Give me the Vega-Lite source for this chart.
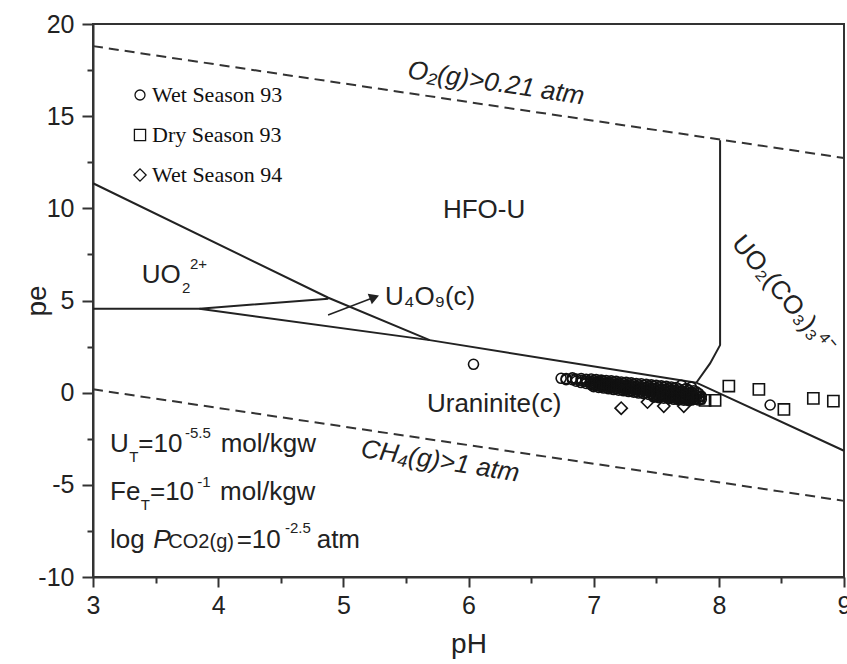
{
  "$schema": "https://vega.github.io/schema/vega-lite/v6.json",
  "width": 751,
  "height": 553,
  "autosize": {"type": "none"},
  "padding": {"left": 93, "top": 24, "right": 3, "bottom": 87},
  "background": "white",
  "config": {
    "font": "Liberation Sans",
    "view": {"stroke": "#333", "strokeWidth": 2},
    "axis": {"domainColor": "#333", "domainWidth": 2, "tickColor": "#333", "tickWidth": 2, "labelColor": "#222", "titleColor": "#222", "grid": false, "labelFont": "Liberation Sans", "titleFont": "Liberation Sans", "titleFontWeight": "normal", "labelFlush": false}
  },
  "layer": [
    {
      "data": {"values": [
        {"g": "O2", "pH": 3, "pe": 18.8}, {"g": "O2", "pH": 9, "pe": 12.73},
        {"g": "CH4", "pH": 3, "pe": 0.18}, {"g": "CH4", "pH": 9, "pe": -5.87}
      ]},
      "mark": {"type": "line", "strokeDash": [10, 6], "strokeWidth": 2, "color": "#333"},
      "encoding": {
        "x": {"field": "pH", "type": "quantitative", "scale": {"domain": [3, 9], "nice": false, "zero": false},
          "axis": {"orient": "bottom", "values": [3.5, 4.5, 5.5, 6.5, 7.5, 8.5], "labels": false, "tickSize": 6, "domain": false, "title": null}},
        "y": {"field": "pe", "type": "quantitative", "scale": {"domain": [-10, 20], "nice": false, "zero": false},
          "axis": {"orient": "left", "values": [-7.5, -2.5, 2.5, 7.5, 12.5, 17.5], "labels": false, "tickSize": 6, "domain": false, "title": null}},
        "detail": {"field": "g"}
      }
    },
    {
      "data": {"values": [
        {"seg": "A", "o": 1, "pH": 3, "pe": 11.36}, {"seg": "A", "o": 2, "pH": 4.88, "pe": 5.15}, {"seg": "A", "o": 3, "pH": 5.69, "pe": 2.85},
        {"seg": "B", "o": 1, "pH": 3, "pe": 4.55}, {"seg": "B", "o": 2, "pH": 3.85, "pe": 4.55}, {"seg": "B", "o": 3, "pH": 4.88, "pe": 5.1},
        {"seg": "C", "o": 1, "pH": 3.85, "pe": 4.55}, {"seg": "C", "o": 2, "pH": 5.69, "pe": 2.85}, {"seg": "C", "o": 3, "pH": 7.82, "pe": 0.54}, {"seg": "C", "o": 4, "pH": 9, "pe": -3.15},
        {"seg": "D", "o": 1, "pH": 8.01, "pe": 13.7}, {"seg": "D", "o": 2, "pH": 8.01, "pe": 2.58}, {"seg": "D", "o": 3, "pH": 7.93, "pe": 1.59}, {"seg": "D", "o": 4, "pH": 7.82, "pe": 0.54}
      ]},
      "mark": {"type": "line", "strokeWidth": 2, "color": "#222"},
      "encoding": {
        "x": {"field": "pH", "type": "quantitative", "axis": null},
        "y": {"field": "pe", "type": "quantitative", "axis": null},
        "detail": {"field": "seg"},
        "order": {"field": "o", "type": "quantitative"}
      }
    },
    {
      "data": {"values": [{"pH": 4.878, "pe": 4.21}, {"pH": 5.248, "pe": 5.18}]},
      "mark": {"type": "line", "strokeWidth": 1.5, "color": "#222"},
      "encoding": {
        "x": {"field": "pH", "type": "quantitative", "axis": null},
        "y": {"field": "pe", "type": "quantitative", "axis": null}
      }
    },
    {
      "data": {"values": [{"pH": 5.248, "pe": 5.18}]},
      "mark": {"type": "point", "shape": "triangle-right", "angle": 339, "filled": true, "size": 130, "color": "#222", "opacity": 1},
      "encoding": {
        "x": {"field": "pH", "type": "quantitative", "axis": null},
        "y": {"field": "pe", "type": "quantitative", "axis": null}
      }
    },
    {
      "data": {"values": [
        {"s": "Wet Season 93", "pH": 6.04, "pe": 1.54},
        {"s": "Wet Season 93", "pH": 6.74, "pe": 0.78},
        {"s": "Wet Season 93", "pH": 6.78, "pe": 0.76}, {"s": "Wet Season 93", "pH": 6.78, "pe": 0.70},
        {"s": "Wet Season 93", "pH": 6.83, "pe": 0.80}, {"s": "Wet Season 93", "pH": 6.83, "pe": 0.70},
        {"s": "Wet Season 93", "pH": 6.86, "pe": 0.74}, {"s": "Wet Season 93", "pH": 6.86, "pe": 0.62},
        {"s": "Wet Season 93", "pH": 6.90, "pe": 0.76}, {"s": "Wet Season 93", "pH": 6.90, "pe": 0.66}, {"s": "Wet Season 93", "pH": 6.90, "pe": 0.55},
        {"s": "Wet Season 93", "pH": 6.94, "pe": 0.72}, {"s": "Wet Season 93", "pH": 6.94, "pe": 0.61}, {"s": "Wet Season 93", "pH": 6.94, "pe": 0.50},
        {"s": "Wet Season 93", "pH": 6.98, "pe": 0.74}, {"s": "Wet Season 93", "pH": 6.98, "pe": 0.62}, {"s": "Wet Season 93", "pH": 6.98, "pe": 0.52}, {"s": "Wet Season 93", "pH": 6.98, "pe": 0.42},
        {"s": "Wet Season 93", "pH": 7.00, "pe": 0.66}, {"s": "Wet Season 93", "pH": 7.00, "pe": 0.54}, {"s": "Wet Season 93", "pH": 7.00, "pe": 0.43}, {"s": "Wet Season 93", "pH": 7.00, "pe": 0.33},
        {"s": "Wet Season 93", "pH": 7.02, "pe": 0.71}, {"s": "Wet Season 93", "pH": 7.02, "pe": 0.58}, {"s": "Wet Season 93", "pH": 7.02, "pe": 0.46}, {"s": "Wet Season 93", "pH": 7.02, "pe": 0.36},
        {"s": "Wet Season 93", "pH": 7.04, "pe": 0.63}, {"s": "Wet Season 93", "pH": 7.04, "pe": 0.50}, {"s": "Wet Season 93", "pH": 7.04, "pe": 0.39}, {"s": "Wet Season 93", "pH": 7.04, "pe": 0.28},
        {"s": "Wet Season 93", "pH": 7.06, "pe": 0.68}, {"s": "Wet Season 93", "pH": 7.06, "pe": 0.55}, {"s": "Wet Season 93", "pH": 7.06, "pe": 0.43}, {"s": "Wet Season 93", "pH": 7.06, "pe": 0.33},
        {"s": "Wet Season 93", "pH": 7.08, "pe": 0.61}, {"s": "Wet Season 93", "pH": 7.08, "pe": 0.48}, {"s": "Wet Season 93", "pH": 7.08, "pe": 0.36}, {"s": "Wet Season 93", "pH": 7.08, "pe": 0.25},
        {"s": "Wet Season 93", "pH": 7.10, "pe": 0.66}, {"s": "Wet Season 93", "pH": 7.10, "pe": 0.53}, {"s": "Wet Season 93", "pH": 7.10, "pe": 0.41}, {"s": "Wet Season 93", "pH": 7.10, "pe": 0.29},
        {"s": "Wet Season 93", "pH": 7.12, "pe": 0.58}, {"s": "Wet Season 93", "pH": 7.12, "pe": 0.45}, {"s": "Wet Season 93", "pH": 7.12, "pe": 0.33}, {"s": "Wet Season 93", "pH": 7.12, "pe": 0.21},
        {"s": "Wet Season 93", "pH": 7.14, "pe": 0.64}, {"s": "Wet Season 93", "pH": 7.14, "pe": 0.50}, {"s": "Wet Season 93", "pH": 7.14, "pe": 0.38}, {"s": "Wet Season 93", "pH": 7.14, "pe": 0.26},
        {"s": "Wet Season 93", "pH": 7.16, "pe": 0.56}, {"s": "Wet Season 93", "pH": 7.16, "pe": 0.42}, {"s": "Wet Season 93", "pH": 7.16, "pe": 0.29}, {"s": "Wet Season 93", "pH": 7.16, "pe": 0.17},
        {"s": "Wet Season 93", "pH": 7.18, "pe": 0.61}, {"s": "Wet Season 93", "pH": 7.18, "pe": 0.47}, {"s": "Wet Season 93", "pH": 7.18, "pe": 0.34}, {"s": "Wet Season 93", "pH": 7.18, "pe": 0.21},
        {"s": "Wet Season 93", "pH": 7.20, "pe": 0.53}, {"s": "Wet Season 93", "pH": 7.20, "pe": 0.39}, {"s": "Wet Season 93", "pH": 7.20, "pe": 0.26}, {"s": "Wet Season 93", "pH": 7.20, "pe": 0.13},
        {"s": "Wet Season 93", "pH": 7.22, "pe": 0.58}, {"s": "Wet Season 93", "pH": 7.22, "pe": 0.44}, {"s": "Wet Season 93", "pH": 7.22, "pe": 0.31}, {"s": "Wet Season 93", "pH": 7.22, "pe": 0.18},
        {"s": "Wet Season 93", "pH": 7.24, "pe": 0.51}, {"s": "Wet Season 93", "pH": 7.24, "pe": 0.36}, {"s": "Wet Season 93", "pH": 7.24, "pe": 0.23}, {"s": "Wet Season 93", "pH": 7.24, "pe": 0.10},
        {"s": "Wet Season 93", "pH": 7.26, "pe": 0.56}, {"s": "Wet Season 93", "pH": 7.26, "pe": 0.41}, {"s": "Wet Season 93", "pH": 7.26, "pe": 0.27}, {"s": "Wet Season 93", "pH": 7.26, "pe": 0.14},
        {"s": "Wet Season 93", "pH": 7.28, "pe": 0.48}, {"s": "Wet Season 93", "pH": 7.28, "pe": 0.34}, {"s": "Wet Season 93", "pH": 7.28, "pe": 0.19}, {"s": "Wet Season 93", "pH": 7.28, "pe": 0.06},
        {"s": "Wet Season 93", "pH": 7.30, "pe": 0.53}, {"s": "Wet Season 93", "pH": 7.30, "pe": 0.39}, {"s": "Wet Season 93", "pH": 7.30, "pe": 0.24}, {"s": "Wet Season 93", "pH": 7.30, "pe": 0.10},
        {"s": "Wet Season 93", "pH": 7.32, "pe": 0.45}, {"s": "Wet Season 93", "pH": 7.32, "pe": 0.30}, {"s": "Wet Season 93", "pH": 7.32, "pe": 0.16}, {"s": "Wet Season 93", "pH": 7.32, "pe": 0.03},
        {"s": "Wet Season 93", "pH": 7.34, "pe": 0.50}, {"s": "Wet Season 93", "pH": 7.34, "pe": 0.35}, {"s": "Wet Season 93", "pH": 7.34, "pe": 0.21}, {"s": "Wet Season 93", "pH": 7.34, "pe": 0.07},
        {"s": "Wet Season 93", "pH": 7.36, "pe": 0.43}, {"s": "Wet Season 93", "pH": 7.36, "pe": 0.27}, {"s": "Wet Season 93", "pH": 7.36, "pe": 0.13}, {"s": "Wet Season 93", "pH": 7.36, "pe": -0.02},
        {"s": "Wet Season 93", "pH": 7.38, "pe": 0.48}, {"s": "Wet Season 93", "pH": 7.38, "pe": 0.32}, {"s": "Wet Season 93", "pH": 7.38, "pe": 0.18}, {"s": "Wet Season 93", "pH": 7.38, "pe": 0.03},
        {"s": "Wet Season 93", "pH": 7.40, "pe": 0.40}, {"s": "Wet Season 93", "pH": 7.40, "pe": 0.24}, {"s": "Wet Season 93", "pH": 7.40, "pe": 0.09}, {"s": "Wet Season 93", "pH": 7.40, "pe": -0.06},
        {"s": "Wet Season 93", "pH": 7.42, "pe": 0.45}, {"s": "Wet Season 93", "pH": 7.42, "pe": 0.29}, {"s": "Wet Season 93", "pH": 7.42, "pe": 0.14}, {"s": "Wet Season 93", "pH": 7.42, "pe": -0.01},
        {"s": "Wet Season 93", "pH": 7.44, "pe": 0.37}, {"s": "Wet Season 93", "pH": 7.44, "pe": 0.21}, {"s": "Wet Season 93", "pH": 7.44, "pe": 0.06}, {"s": "Wet Season 93", "pH": 7.44, "pe": -0.10},
        {"s": "Wet Season 93", "pH": 7.46, "pe": 0.42}, {"s": "Wet Season 93", "pH": 7.46, "pe": 0.26}, {"s": "Wet Season 93", "pH": 7.46, "pe": 0.11}, {"s": "Wet Season 93", "pH": 7.46, "pe": -0.05},
        {"s": "Wet Season 93", "pH": 7.48, "pe": 0.35}, {"s": "Wet Season 93", "pH": 7.48, "pe": 0.18}, {"s": "Wet Season 93", "pH": 7.48, "pe": 0.02}, {"s": "Wet Season 93", "pH": 7.48, "pe": -0.13}, {"s": "Wet Season 93", "pH": 7.48, "pe": -0.24},
        {"s": "Wet Season 93", "pH": 7.50, "pe": 0.40}, {"s": "Wet Season 93", "pH": 7.50, "pe": 0.23}, {"s": "Wet Season 93", "pH": 7.50, "pe": 0.08}, {"s": "Wet Season 93", "pH": 7.50, "pe": -0.08}, {"s": "Wet Season 93", "pH": 7.50, "pe": -0.20},
        {"s": "Wet Season 93", "pH": 7.52, "pe": 0.32}, {"s": "Wet Season 93", "pH": 7.52, "pe": 0.15}, {"s": "Wet Season 93", "pH": 7.52, "pe": -0.01}, {"s": "Wet Season 93", "pH": 7.52, "pe": -0.16}, {"s": "Wet Season 93", "pH": 7.52, "pe": -0.27},
        {"s": "Wet Season 93", "pH": 7.54, "pe": 0.37}, {"s": "Wet Season 93", "pH": 7.54, "pe": 0.20}, {"s": "Wet Season 93", "pH": 7.54, "pe": 0.05}, {"s": "Wet Season 93", "pH": 7.54, "pe": -0.11}, {"s": "Wet Season 93", "pH": 7.54, "pe": -0.22},
        {"s": "Wet Season 93", "pH": 7.56, "pe": 0.29}, {"s": "Wet Season 93", "pH": 7.56, "pe": 0.12}, {"s": "Wet Season 93", "pH": 7.56, "pe": -0.04}, {"s": "Wet Season 93", "pH": 7.56, "pe": -0.19}, {"s": "Wet Season 93", "pH": 7.56, "pe": -0.30},
        {"s": "Wet Season 93", "pH": 7.58, "pe": 0.34}, {"s": "Wet Season 93", "pH": 7.58, "pe": 0.18}, {"s": "Wet Season 93", "pH": 7.58, "pe": 0.02}, {"s": "Wet Season 93", "pH": 7.58, "pe": -0.14}, {"s": "Wet Season 93", "pH": 7.58, "pe": -0.25},
        {"s": "Wet Season 93", "pH": 7.60, "pe": 0.26}, {"s": "Wet Season 93", "pH": 7.60, "pe": 0.09}, {"s": "Wet Season 93", "pH": 7.60, "pe": -0.07}, {"s": "Wet Season 93", "pH": 7.60, "pe": -0.22}, {"s": "Wet Season 93", "pH": 7.60, "pe": -0.33},
        {"s": "Wet Season 93", "pH": 7.62, "pe": 0.31}, {"s": "Wet Season 93", "pH": 7.62, "pe": 0.15}, {"s": "Wet Season 93", "pH": 7.62, "pe": -0.01}, {"s": "Wet Season 93", "pH": 7.62, "pe": -0.17}, {"s": "Wet Season 93", "pH": 7.62, "pe": -0.28},
        {"s": "Wet Season 93", "pH": 7.64, "pe": 0.23}, {"s": "Wet Season 93", "pH": 7.64, "pe": 0.06}, {"s": "Wet Season 93", "pH": 7.64, "pe": -0.10}, {"s": "Wet Season 93", "pH": 7.64, "pe": -0.25}, {"s": "Wet Season 93", "pH": 7.64, "pe": -0.36},
        {"s": "Wet Season 93", "pH": 7.66, "pe": 0.28}, {"s": "Wet Season 93", "pH": 7.66, "pe": 0.12}, {"s": "Wet Season 93", "pH": 7.66, "pe": -0.04}, {"s": "Wet Season 93", "pH": 7.66, "pe": -0.20}, {"s": "Wet Season 93", "pH": 7.66, "pe": -0.32},
        {"s": "Wet Season 93", "pH": 7.68, "pe": 0.20}, {"s": "Wet Season 93", "pH": 7.68, "pe": 0.03}, {"s": "Wet Season 93", "pH": 7.68, "pe": -0.13}, {"s": "Wet Season 93", "pH": 7.68, "pe": -0.28}, {"s": "Wet Season 93", "pH": 7.68, "pe": -0.39},
        {"s": "Wet Season 93", "pH": 7.70, "pe": 0.40}, {"s": "Wet Season 93", "pH": 7.70, "pe": 0.10}, {"s": "Wet Season 93", "pH": 7.70, "pe": -0.07}, {"s": "Wet Season 93", "pH": 7.70, "pe": -0.23}, {"s": "Wet Season 93", "pH": 7.70, "pe": -0.35},
        {"s": "Wet Season 93", "pH": 7.72, "pe": 0.17}, {"s": "Wet Season 93", "pH": 7.72, "pe": 0.00}, {"s": "Wet Season 93", "pH": 7.72, "pe": -0.16}, {"s": "Wet Season 93", "pH": 7.72, "pe": -0.31}, {"s": "Wet Season 93", "pH": 7.72, "pe": -0.41},
        {"s": "Wet Season 93", "pH": 7.74, "pe": 0.22}, {"s": "Wet Season 93", "pH": 7.74, "pe": 0.06}, {"s": "Wet Season 93", "pH": 7.74, "pe": -0.10}, {"s": "Wet Season 93", "pH": 7.74, "pe": -0.26}, {"s": "Wet Season 93", "pH": 7.74, "pe": -0.38},
        {"s": "Wet Season 93", "pH": 7.76, "pe": 0.14}, {"s": "Wet Season 93", "pH": 7.76, "pe": -0.04}, {"s": "Wet Season 93", "pH": 7.76, "pe": -0.19}, {"s": "Wet Season 93", "pH": 7.76, "pe": -0.34}, {"s": "Wet Season 93", "pH": 7.76, "pe": -0.43},
        {"s": "Wet Season 93", "pH": 7.78, "pe": 0.30}, {"s": "Wet Season 93", "pH": 7.78, "pe": 0.03}, {"s": "Wet Season 93", "pH": 7.78, "pe": -0.13}, {"s": "Wet Season 93", "pH": 7.78, "pe": -0.29}, {"s": "Wet Season 93", "pH": 7.78, "pe": -0.40},
        {"s": "Wet Season 93", "pH": 7.80, "pe": 0.10}, {"s": "Wet Season 93", "pH": 7.80, "pe": -0.06}, {"s": "Wet Season 93", "pH": 7.80, "pe": -0.22}, {"s": "Wet Season 93", "pH": 7.80, "pe": -0.37},
        {"s": "Wet Season 93", "pH": 7.82, "pe": 0.05}, {"s": "Wet Season 93", "pH": 7.82, "pe": -0.16}, {"s": "Wet Season 93", "pH": 7.82, "pe": -0.32},
        {"s": "Wet Season 93", "pH": 7.84, "pe": -0.05}, {"s": "Wet Season 93", "pH": 7.84, "pe": -0.25}, {"s": "Wet Season 93", "pH": 7.84, "pe": -0.40},
        {"s": "Wet Season 93", "pH": 7.86, "pe": -0.20}, {"s": "Wet Season 93", "pH": 7.86, "pe": -0.36},
        {"s": "Wet Season 93", "pH": 8.41, "pe": -0.67},
        {"s": "Dry Season 93", "pH": 7.84, "pe": -0.30}, {"s": "Dry Season 93", "pH": 7.89, "pe": -0.42}, {"s": "Dry Season 93", "pH": 7.97, "pe": -0.42},
        {"s": "Dry Season 93", "pH": 8.08, "pe": 0.36}, {"s": "Dry Season 93", "pH": 8.32, "pe": 0.18}, {"s": "Dry Season 93", "pH": 8.52, "pe": -0.91},
        {"s": "Dry Season 93", "pH": 8.755, "pe": -0.31}, {"s": "Dry Season 93", "pH": 8.915, "pe": -0.46},
        {"s": "Wet Season 94", "pH": 7.22, "pe": -0.84}, {"s": "Wet Season 94", "pH": 7.43, "pe": -0.51},
        {"s": "Wet Season 94", "pH": 7.56, "pe": -0.73}, {"s": "Wet Season 94", "pH": 7.72, "pe": -0.73}
      ]},
      "mark": {"type": "point", "filled": false, "strokeWidth": 1.6, "color": "#111", "opacity": 1},
      "encoding": {
        "x": {"field": "pH", "type": "quantitative", "scale": {"domain": [3, 9], "nice": false, "zero": false},
          "axis": {"orient": "bottom", "values": [3, 4, 5, 6, 7, 8, 9], "tickSize": 10, "labelFontSize": 25, "labelPadding": 6, "title": "pH", "titleFontSize": 28, "titlePadding": 12}},
        "y": {"field": "pe", "type": "quantitative", "scale": {"domain": [-10, 20], "nice": false, "zero": false},
          "axis": {"orient": "left", "values": [-10, -5, 0, 5, 10, 15, 20], "tickSize": 11, "labelFontSize": 25, "labelPadding": 8, "labelExpr": "replace(datum.label, '−', '-')", "title": "pe", "titleFontSize": 28, "titlePadding": -14}},
        "shape": {"field": "s", "type": "nominal",
          "scale": {"domain": ["Wet Season 93", "Dry Season 93", "Wet Season 94"], "range": ["circle", "square", "diamond"]},
          "legend": {"orient": "none", "legendX": 36, "legendY": 60, "title": null, "padding": 0, "labelFont": "Liberation Serif", "labelFontSize": 22, "labelColor": "#111", "rowPadding": 18, "labelOffset": 1, "symbolStrokeColor": "#111", "symbolFillColor": "transparent", "symbolStrokeWidth": 1.3}},
        "size": {"field": "s", "type": "nominal",
          "scale": {"domain": ["Wet Season 93", "Dry Season 93", "Wet Season 94"], "range": [100, 150, 130]}}
      }
    },
    {
      "data": {"values": [
        {"pH": 5.796, "pe": 9.47, "t": "HFO-U"},
        {"pH": 3.389, "pe": 5.96, "t": "UO"},
        {"pH": 5.333, "pe": 4.75, "t": "U₄O₉(c)"},
        {"pH": 5.668, "pe": -1.04, "t": "Uraninite(c)"},
        {"pH": 3.136, "pe": -3.21, "t": "U"},
        {"pH": 3.362, "pe": -3.21, "t": "=10"},
        {"pH": 4.020, "pe": -3.21, "t": "mol/kgw"},
        {"pH": 3.136, "pe": -5.83, "t": "Fe"},
        {"pH": 3.455, "pe": -5.83, "t": "=10"},
        {"pH": 4.015, "pe": -5.83, "t": "mol/kgw"},
        {"pH": 3.136, "pe": -8.45, "t": "log"},
        {"pH": 4.148, "pe": -8.45, "t": "=10"},
        {"pH": 4.787, "pe": -8.45, "t": "atm"}
      ]},
      "mark": {"type": "text", "align": "left", "baseline": "alphabetic", "fontSize": 26, "color": "#222"},
      "encoding": {
        "x": {"field": "pH", "type": "quantitative", "axis": null},
        "y": {"field": "pe", "type": "quantitative", "axis": null},
        "text": {"field": "t"}
      }
    },
    {
      "data": {"values": [
        {"pH": 3.711, "pe": 5.40, "t": "2"},
        {"pH": 3.775, "pe": 6.69, "t": "2+"},
        {"pH": 3.290, "pe": -3.75, "t": "T"},
        {"pH": 3.735, "pe": -2.48, "t": "-5.5"},
        {"pH": 3.381, "pe": -6.37, "t": "T"},
        {"pH": 3.833, "pe": -5.11, "t": "-1"},
        {"pH": 4.534, "pe": -7.62, "t": "-2.5"}
      ]},
      "mark": {"type": "text", "align": "left", "baseline": "alphabetic", "fontSize": 15, "color": "#222"},
      "encoding": {
        "x": {"field": "pH", "type": "quantitative", "axis": null},
        "y": {"field": "pe", "type": "quantitative", "axis": null},
        "text": {"field": "t"}
      }
    },
    {
      "data": {"values": [{"pH": 3.602, "pe": -8.45, "t": "CO2(g)"}]},
      "mark": {"type": "text", "align": "left", "baseline": "alphabetic", "fontSize": 20, "color": "#222"},
      "encoding": {
        "x": {"field": "pH", "type": "quantitative", "axis": null},
        "y": {"field": "pe", "type": "quantitative", "axis": null},
        "text": {"field": "t"}
      }
    },
    {
      "data": {"values": [{"pH": 3.482, "pe": -8.45, "t": "P"}]},
      "mark": {"type": "text", "align": "left", "baseline": "alphabetic", "fontSize": 26, "fontStyle": "italic", "color": "#222"},
      "encoding": {
        "x": {"field": "pH", "type": "quantitative", "axis": null},
        "y": {"field": "pe", "type": "quantitative", "axis": null},
        "text": {"field": "t"}
      }
    },
    {
      "data": {"values": [{"pH": 5.506, "pe": 17.07, "t": "O₂(g)>0.21 atm"}]},
      "mark": {"type": "text", "align": "left", "baseline": "alphabetic", "fontSize": 26, "fontStyle": "italic", "angle": 8.5, "color": "#222"},
      "encoding": {
        "x": {"field": "pH", "type": "quantitative", "axis": null},
        "y": {"field": "pe", "type": "quantitative", "axis": null},
        "text": {"field": "t"}
      }
    },
    {
      "data": {"values": [{"pH": 5.133, "pe": -3.47, "t": "CH₄(g)>1 atm"}]},
      "mark": {"type": "text", "align": "left", "baseline": "alphabetic", "fontSize": 26, "fontStyle": "italic", "angle": 9, "color": "#222"},
      "encoding": {
        "x": {"field": "pH", "type": "quantitative", "axis": null},
        "y": {"field": "pe", "type": "quantitative", "axis": null},
        "text": {"field": "t"}
      }
    },
    {
      "data": {"values": [{"pH": 8.52, "pe": 5.3, "t": "UO₂(CO₃)₃⁴⁻"}]},
      "mark": {"type": "text", "align": "center", "baseline": "middle", "fontSize": 26, "angle": 50, "color": "#222"},
      "encoding": {
        "x": {"field": "pH", "type": "quantitative", "axis": null},
        "y": {"field": "pe", "type": "quantitative", "axis": null},
        "text": {"field": "t"}
      }
    }
  ],
  "resolve": {"axis": {"x": "independent", "y": "independent"}}
}
